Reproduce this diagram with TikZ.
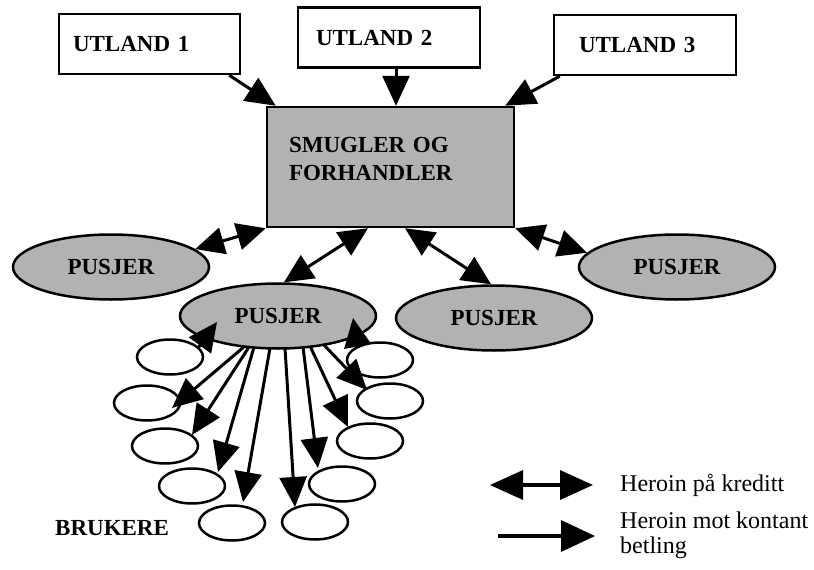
\documentclass[tikz,border=0pt]{standalone}
\usepackage{fontspec}
\setmainfont{Liberation Serif}
\usetikzlibrary{arrows.meta,calc,shapes.geometric}
\begin{document}
\begin{tikzpicture}[x=1pt,y=-1pt,
  lab/.style={font=\bfseries\fontsize{23}{28}\selectfont},
  ubox/.style={draw, line width=2.5pt, lab, align=left, minimum height=60pt, inner ysep=0pt},
  pus/.style={ellipse, draw, line width=2.5pt, fill=black!30, minimum width=196pt, minimum height=65pt, inner sep=0pt, lab},
  usr/.style={ellipse, draw, line width=2.5pt, fill=white, minimum width=66pt, minimum height=35pt, inner sep=0pt},
  sarr/.style={line width=3pt, -{Triangle[length=30pt,width=27pt]}},
  darr/.style={line width=3pt, {Triangle[length=29pt,width=27pt]}-{Triangle[length=29pt,width=27pt]}},
  darrh/.style={line width=3pt, {Triangle[length=12pt,width=12pt]}-{Triangle[length=29pt,width=27pt]}},
  lsarr/.style={line width=3.5pt, -{Triangle[length=34pt,width=31pt]}},
  ldarr/.style={line width=3.5pt, {Triangle[length=33pt,width=29pt]}-{Triangle[length=33pt,width=29pt]}},
  leg/.style={font=\fontsize{24}{25}\selectfont, inner sep=0pt}
]
\useasboundingbox (0,0) rectangle (814,570);

% user positions
\coordinate (cb1) at (170,357);
\coordinate (cb2) at (147,403);
\coordinate (cb3) at (165,446);
\coordinate (cb4) at (192,486);
\coordinate (cb5) at (232,523);
\coordinate (cb6) at (315,522);
\coordinate (cb7) at (342,484);
\coordinate (cb8) at (370,441);
\coordinate (cb9) at (390,401);
\coordinate (cb10) at (380,360);

% top boxes
\node[ubox, text width=153pt, inner xsep=14pt] (u1) at (149.5,44) {UTLAND 1};
\node[ubox, text width=146pt, inner xsep=18pt] (u2) at (389,37.5) {UTLAND 2};
\node[ubox, text width=132pt, inner xsep=25pt] (u3) at (645,45) {UTLAND 3};
\node[draw, line width=2.5pt, fill=black!30, lab, align=left, text width=203pt,
      inner xsep=22pt, inner ysep=0pt, minimum height=120pt, text depth=44pt] (sm) at (390.5,167)
      {SMUGLER OG\\FORHANDLER};

% pushers
\node[pus] (pL) at (111,267) {PUSJER};
\node[pus] (pM) at (278,316) {PUSJER};
\node[pus] (pR2) at (494,318) {PUSJER};
\node[pus] (pR) at (677,267) {PUSJER};

% supply arrows
\draw[sarr] ([xshift=-12pt]u1.south east) -- ([xshift=10pt]sm.north west);
\draw[sarr] ([xshift=7pt]u2.south) -- ([xshift=5.5pt]sm.north);
\draw[sarr] ([xshift=7pt]u3.south west) -- ([xshift=-10pt]sm.north east);

% credit arrows to pushers
\draw[darr] (sm.south west) -- (pL.12);
\draw[darr] ([xshift=-22.5pt]sm.south) -- (pM.80);
\draw[darr] ([xshift=14.5pt]sm.south) -- (pR2.95);
\draw[darr] (sm.south east) -- (pR.171);

% credit arrows to two users (lower heads hidden by the users)
\draw[darrh] ($(cb1)+(20,2)$) -- ($(pM)+(-61,6)$);
\draw[darrh] ($(cb10)+(-20,0)$) -- ($(pM)+(75,2)$);

% users
\foreach \i in {1,...,10} {\node[usr] (b\i) at (cb\i) {};}

% cash arrows
\draw[sarr] ($(pM)+(-33,30)$) -- ($(b2)+(25,5)$);
\draw[sarr] ($(pM)+(-29,31)$) -- ($(b3)+(27,-11)$);
\draw[sarr] ($(pM)+(-24,31)$) -- ($(b4)+(26,-14)$);
\draw[sarr] ($(pM)+(-8,32)$) -- ($(b5)+(11,-21)$);
\draw[sarr] ($(pM)+(7,32)$) -- ($(b6)+(-20,-15)$);
\draw[sarr] ($(pM)+(25,31)$) -- ($(b7)+(-24,-16)$);
\draw[sarr] ($(pM)+(32,30)$) -- ($(b8)+(-22,-14)$);
\draw[sarr] ($(pM)+(45,28)$) -- ($(b9)+(-23,-11)$);

\node[lab, anchor=base west, inner sep=0pt] (bru) at (55,535) {BRUKERE};

% legend
\coordinate (l1a) at (490,485);
\coordinate (l1b) at (593,485);
\coordinate (l2a) at (498,536);
\coordinate (l2b) at (595,536);
\draw[ldarr] (l1a) -- (l1b);
\draw[lsarr] (l2a) -- (l2b);
\node[leg, anchor=base west] (k1) at (620,491) {Heroin på kreditt};
\node[leg, anchor=base west] (k2) at (620,528) {Heroin mot kontant};
\node[leg, anchor=base west] (k3) at (620,553) {betling};
\end{tikzpicture}
\end{document}
